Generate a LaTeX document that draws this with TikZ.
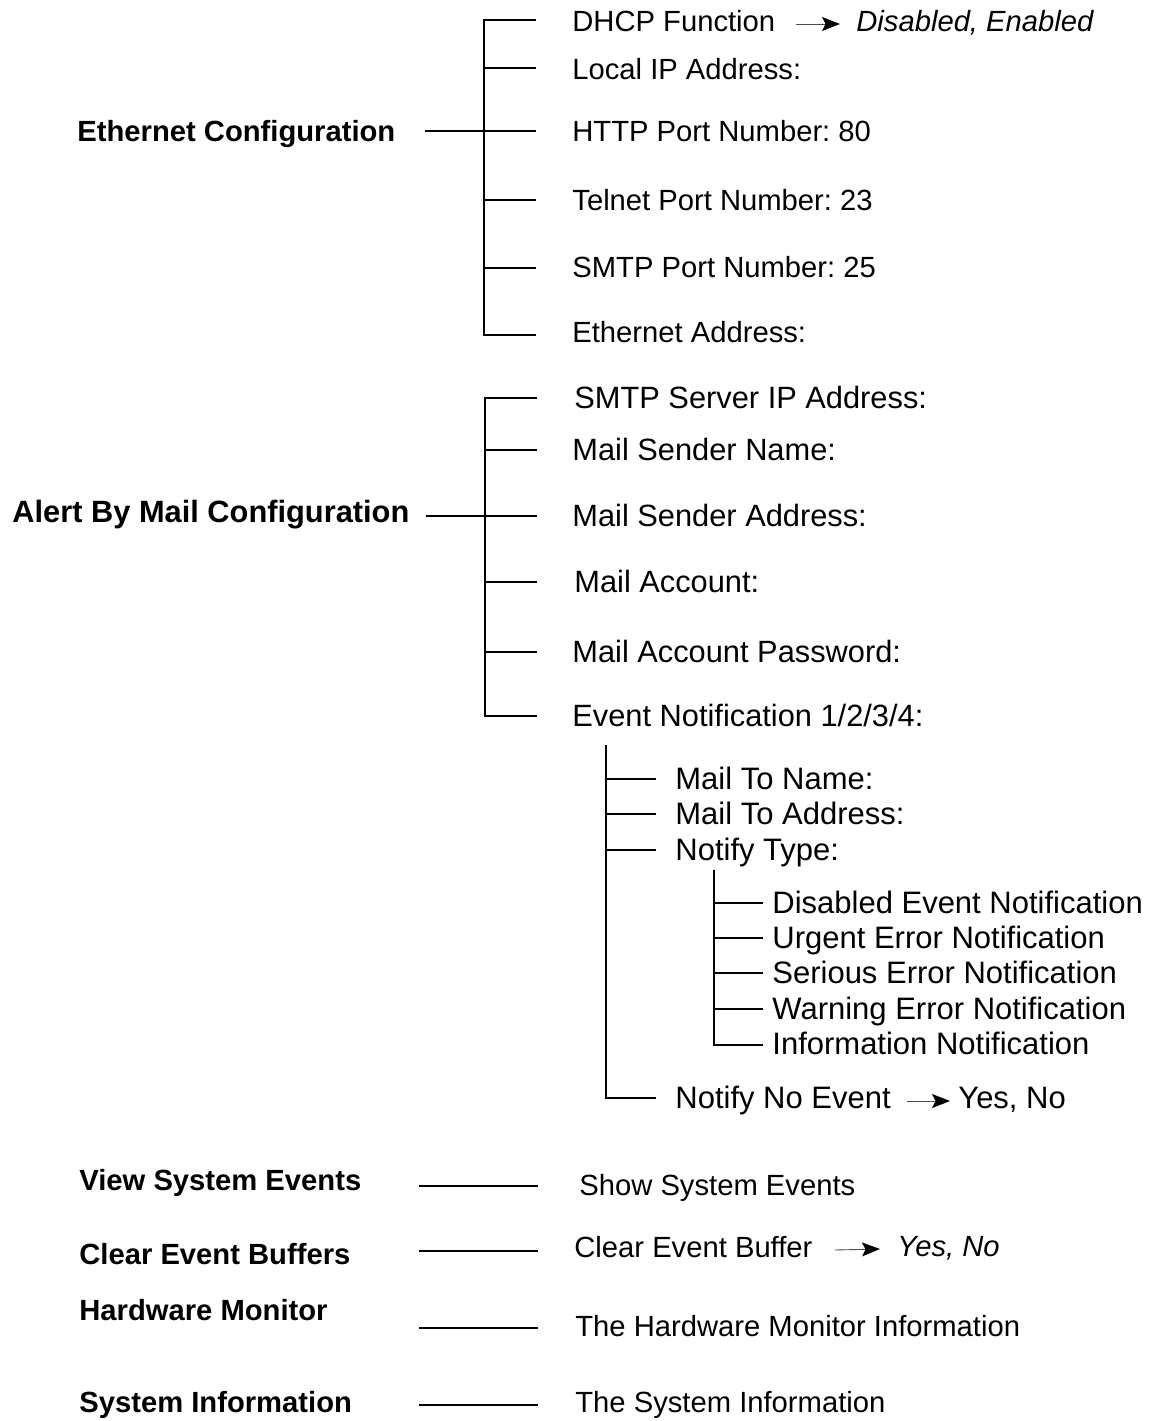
\documentclass[tikz,border=0pt]{standalone}
\usepackage{fontspec}
\setmainfont{Liberation Sans}
\usetikzlibrary{arrows.meta}
\begin{document}
\frenchspacing
\begin{tikzpicture}[x=0.5pt,y=-0.5pt,
  txt/.style={anchor=west,inner sep=0pt,text height=0.72em,text depth=0pt,yshift=-1.5pt,font=\fontsize{14.6}{17}\selectfont},
  itx/.style={txt,font=\fontsize{14.6}{17}\selectfont\itshape},
  mtx/.style={txt,font=\fontsize{15.4}{18}\selectfont},
  sub/.style={txt,font=\fontsize{15.5}{18}\selectfont},
  hd/.style={txt,font=\fontsize{14.6}{17}\selectfont\bfseries},
  br/.style={line width=1.4pt,line join=miter},
  arr/.style={line width=0.45pt,draw=black!70,-{Stealth[length=9pt,width=7pt,inset=1.8pt,color=black]}}]
\useasboundingbox (0,0) rectangle (1149,1421);

% ---------------- Ethernet Configuration ----------------
\node[hd] (eth) at (77,131) {Ethernet Configuration};
\node[txt] (dhcp) at (572,21) {DHCP Function};
\node[itx] (dhcpv) at (856,21) {Disabled, Enabled};
\node[txt] (lip) at (572,69) {Local IP Address:};
\node[txt] (http) at (572,131) {HTTP Port Number: 80};
\node[txt] (tel) at (572,200) {Telnet Port Number: 23};
\node[txt] (smtp) at (572,267) {SMTP Port Number: 25};
\node[txt] (eadr) at (572,332) {Ethernet Address:};

\coordinate (eb) at (484,335);
\coordinate (e1) at (536,20);
\coordinate (e2) at (536,68);
\coordinate (e3) at (536,131);
\coordinate (e4) at (536,200);
\coordinate (e5) at (536,268);
\coordinate (e6) at (536,335);
\coordinate (er) at (425,131);
\draw[br] (e1) -| (eb) -- (e6);
\draw[br] (e2 -| eb) -- (e2);
\draw[br] (er) -- (e3);
\draw[br] (e4 -| eb) -- (e4);
\draw[br] (e5 -| eb) -- (e5);
\draw[arr] ([xshift=10pt]dhcp.east) -- ([xshift=-8pt]dhcpv.west);

% ---------------- Alert By Mail Configuration ----------------
\node[hd,font=\fontsize{15.4}{18}\selectfont\bfseries] (mail) at (12,512) {Alert By Mail Configuration};
\node[mtx] (ssip) at (574,398) {SMTP Server IP Address:};
\node[mtx] (msn) at (572,450) {Mail Sender Name:};
\node[mtx] (msa) at (572,516) {Mail Sender Address:};
\node[mtx] (mac) at (574,582) {Mail Account:};
\node[mtx] (map) at (572,652) {Mail Account Password:};
\node[mtx] (evn) at (572,716) {Event Notification 1/2/3/4:};

\coordinate (mb) at (485,716);
\coordinate (m1) at (537,398);
\coordinate (m2) at (537,450);
\coordinate (m3) at (537,516);
\coordinate (m4) at (537,582);
\coordinate (m5) at (537,652);
\coordinate (m6) at (537,716);
\coordinate (mr) at (426,516);
\draw[br] (m1) -| (mb) -- (m6);
\draw[br] (m2 -| mb) -- (m2);
\draw[br] (mr) -- (m3);
\draw[br] (m4 -| mb) -- (m4);
\draw[br] (m5 -| mb) -- (m5);

% ---------------- Event notification sub-tree ----------------
\node[sub] (mtn) at (675,779) {Mail To Name:};
\node[sub] (mta) at (675,814) {Mail To Address:};
\node[sub] (nty) at (675,850) {Notify Type:};
\node[sub] (nne) at (675,1098) {Notify No Event};
\node[sub] (nnev) at (958,1098) {Yes, No};

\coordinate (sbt) at (606,745);
\coordinate (sb) at (606,1098);
\coordinate (s1) at (656,779);
\coordinate (s2) at (656,814);
\coordinate (s3) at (656,850);
\coordinate (s4) at (656,1098);
\draw[br] (sbt) -- (sb) -- (s4);
\draw[br] (s1 -| sb) -- (s1);
\draw[br] (s2 -| sb) -- (s2);
\draw[br] (s3 -| sb) -- (s3);
\draw[arr] ([xshift=8pt]nne.east) -- ([xshift=-4pt]nnev.west);

% ---------------- Notify type sub-tree ----------------
\node[sub] (t1) at (772,903) {Disabled Event Notification};
\node[sub] (t2) at (772,938) {Urgent Error Notification};
\node[sub] (t3) at (772,973) {Serious Error Notification};
\node[sub] (t4) at (772,1009) {Warning Error Notification};
\node[sub] (t5) at (772,1044) {Information Notification};

\coordinate (tbt) at (714,870);
\coordinate (tb) at (714,1045);
\coordinate (u1) at (763,903);
\coordinate (u2) at (763,938);
\coordinate (u3) at (763,973);
\coordinate (u4) at (763,1009);
\coordinate (u5) at (763,1045);
\draw[br] (tbt) -- (tb) -- (u5);
\draw[br] (u1 -| tb) -- (u1);
\draw[br] (u2 -| tb) -- (u2);
\draw[br] (u3 -| tb) -- (u3);
\draw[br] (u4 -| tb) -- (u4);

% ---------------- Bottom items ----------------
\node[hd] (vse) at (79,1180) {View System Events};
\node[txt] (sse) at (579,1185) {Show System Events};
\node[hd] (ceb) at (79,1254) {Clear Event Buffers};
\node[txt] (ceb2) at (574,1247) {Clear Event Buffer};
\node[itx] (cebv) at (897,1246) {Yes, No};
\node[hd] (hwm) at (79,1310) {Hardware Monitor};
\node[txt] (hwm2) at (575,1326) {The Hardware Monitor Information};
\node[hd] (sys) at (79,1402) {System Information};
\node[txt] (sys2) at (575,1402) {The System Information};

\coordinate (l1a) at (419,1186); \coordinate (l1b) at (538,1186);
\coordinate (l2a) at (419,1251); \coordinate (l2b) at (538,1251);
\coordinate (l3a) at (419,1328); \coordinate (l3b) at (538,1328);
\coordinate (l4a) at (419,1405); \coordinate (l4b) at (538,1405);
\draw[br] (l1a) -- (l1b);
\draw[br] (l2a) -- (l2b);
\draw[br] (l3a) -- (l3b);
\draw[br] (l4a) -- (l4b);
\draw[arr] ([xshift=11pt]ceb2.east) -- ([xshift=-8.5pt]cebv.west);
\end{tikzpicture}
\end{document}
